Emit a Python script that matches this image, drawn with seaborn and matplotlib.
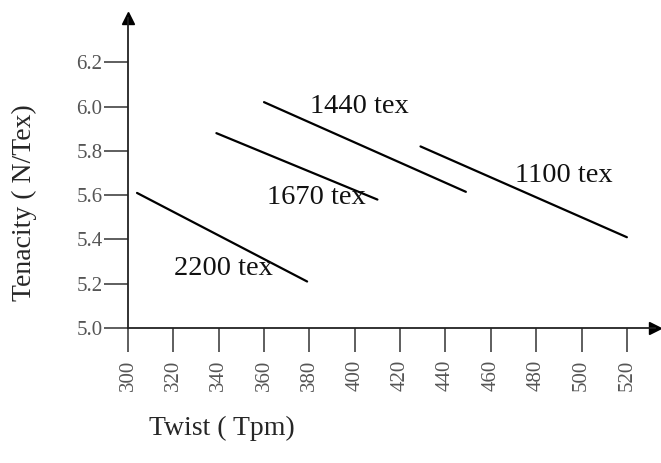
import matplotlib
matplotlib.use("Agg")
import matplotlib.pyplot as plt
import pandas as pd
import seaborn as sns

# yarn counts and the end points of each tenacity/twist segment
counts = ["2200 tex", "1670 tex", "1440 tex", "1100 tex"]
twist_start = [304, 339, 360, 429]
twist_end = [379, 410, 449, 520]
tenacity_start = [5.61, 5.88, 6.02, 5.82]
tenacity_end = [5.21, 5.58, 5.615, 5.41]

# where each count label sits (data coords)
label_twist = [342, 383, 402, 492]
label_tenacity = [5.27, 5.59, 6.00, 5.69]

x_ticks = [300, 320, 340, 360, 380, 400, 420, 440, 460, 480, 500, 520]
y_ticks = [5.0, 5.2, 5.4, 5.6, 5.8, 6.0, 6.2]
y_tick_labels = ["5.0", "5.2", "5.4", "5.6", "5.8", "6.0", "6.2"]

rows = []
for c, x0, x1, y0, y1 in zip(counts, twist_start, twist_end, tenacity_start, tenacity_end):
    rows.append({"count": c, "twist": x0, "tenacity": y0})
    rows.append({"count": c, "twist": x1, "tenacity": y1})
df = pd.DataFrame(rows)

sns.set_theme(style="white")
plt.rcParams["font.family"] = ["Liberation Serif", "DejaVu Serif"]

fig = plt.figure(figsize=(6.61, 4.63), dpi=100)
ax = fig.add_axes([127.5 / 661, 135 / 463, 527.5 / 661, 310 / 463])

sns.lineplot(data=df, x="twist", y="tenacity", hue="count", units="count",
             estimator=None, palette=["black"] * 4, legend=False,
             linewidth=1.6, ax=ax)

for c, lx, ly in zip(counts, label_twist, label_tenacity):
    ax.text(lx, ly, c, fontsize=20.5, ha="center", va="center", color="#111")

ax.set_xlim(299.8, 532.4)
ax.set_ylim(5.0, 6.40)

for side in ["top", "right"]:
    ax.spines[side].set_visible(False)
for side in ["left", "bottom"]:
    ax.spines[side].set_color("#222")
    ax.spines[side].set_linewidth(1.3)

ax.plot(1, 0, ">", color="black", markersize=9, transform=ax.transAxes, clip_on=False)
ax.plot(0, 1, "^", color="black", markersize=9, transform=ax.transAxes, clip_on=False)

ax.set_xticks(x_ticks)
ax.set_xticklabels([str(v) for v in x_ticks], rotation=90, fontsize=15, color="#555")
ax.set_yticks(y_ticks)
ax.set_yticklabels(y_tick_labels, fontsize=15, color="#555")
ax.tick_params(axis="x", direction="out", length=17, width=1.1, color="#333", pad=6, bottom=True)
ax.tick_params(axis="y", direction="out", length=17, width=1.1, color="#333", pad=1, left=True)

ax.set_xlabel("")
ax.set_ylabel("")
fig.text(222 / 661, 1 - 428 / 463, "Twist ( Tpm)", fontsize=20, ha="center", va="center")
fig.text(24 / 661, 1 - 203 / 463, "Tenacity ( N/Tex)", fontsize=20, ha="center",
         va="center", rotation=90)

fig.savefig("out.png", dpi=100)
